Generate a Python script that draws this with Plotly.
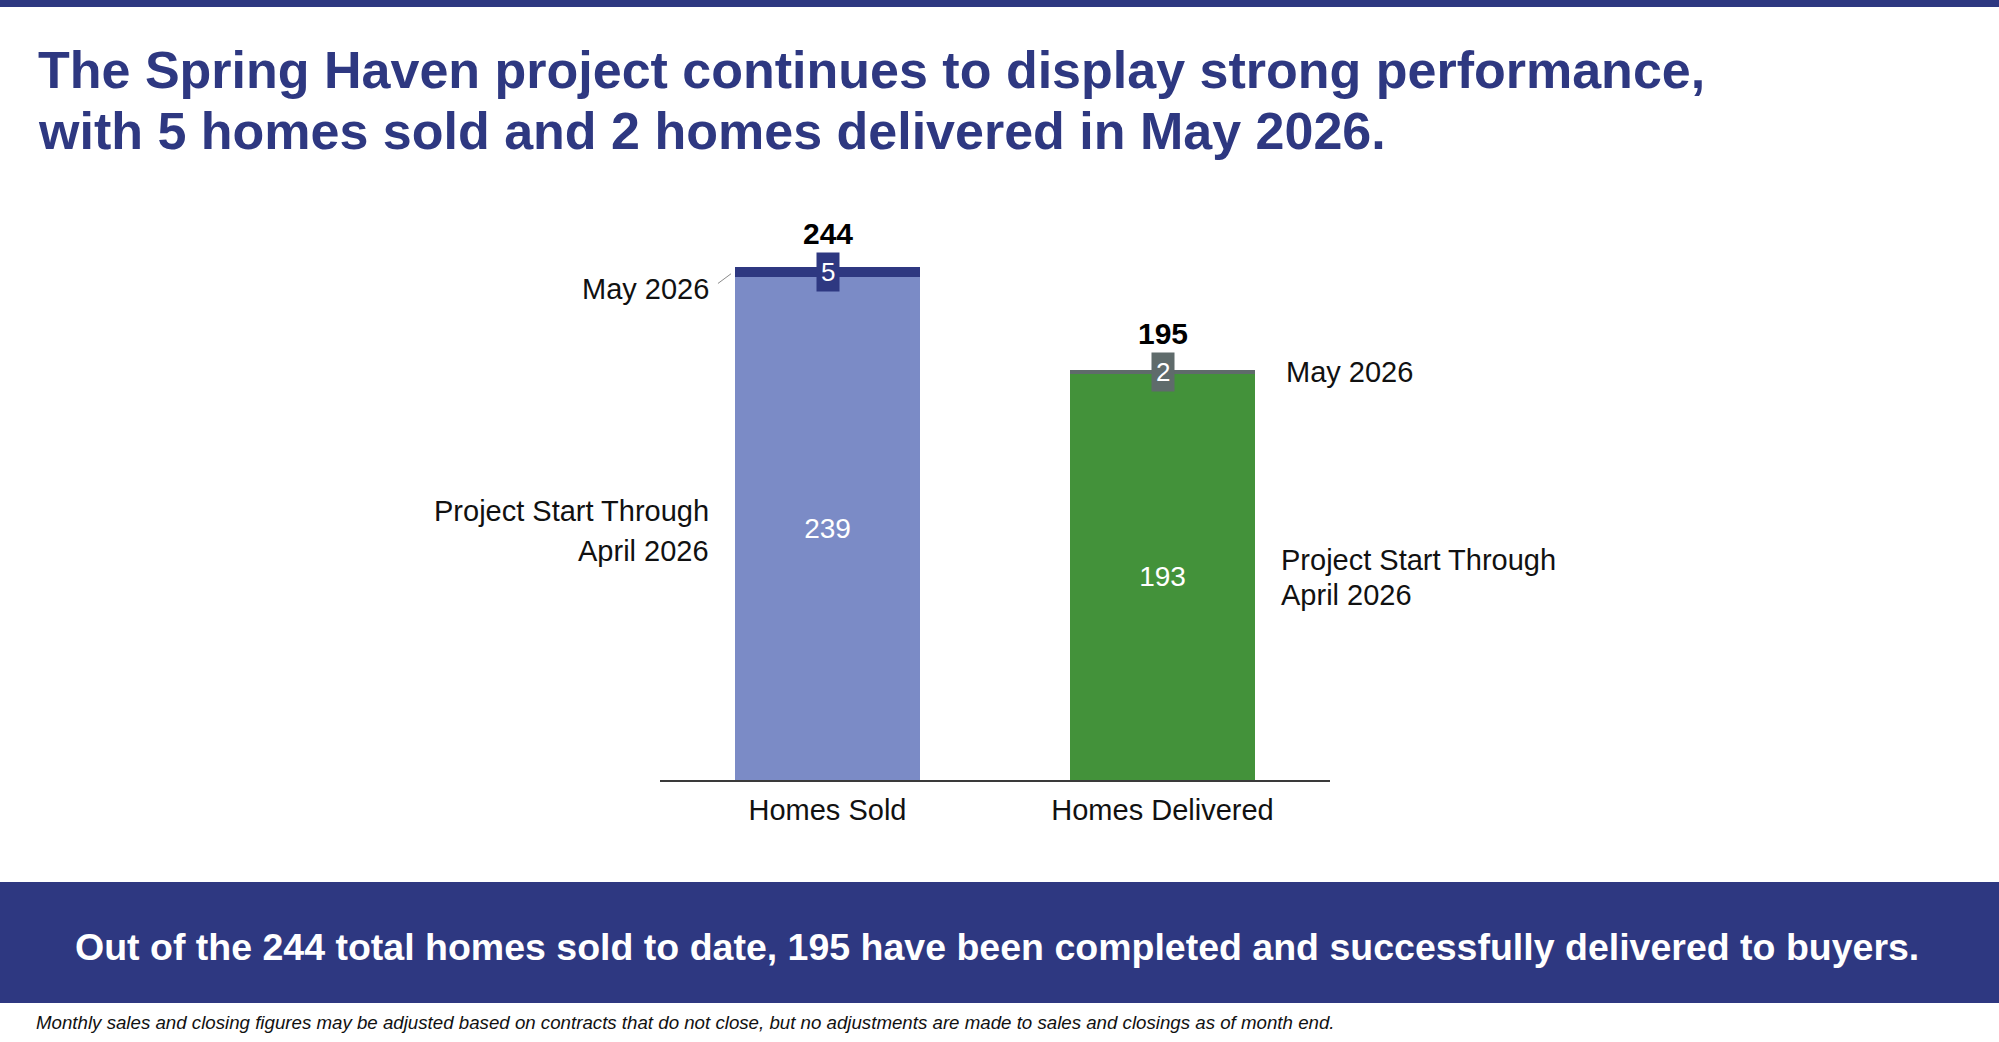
import plotly.graph_objects as go

W, H = 1999, 1042

# data
categories = ["Homes Sold", "Homes Delivered"]
series_names = ["Project Start Through April 2026", "May 2026"]
through_april = [239, 193]
may_2026 = [5, 2]
totals = [a + b for a, b in zip(through_april, may_2026)]

title_lines = [
    "The Spring Haven project continues to display strong performance,",
    "with 5 homes sold and 2 homes delivered in May 2026.",
]
banner_text = ("Out of the 244 total homes sold to date, 195 have been completed "
               "and successfully delivered to buyers.")
footnote = ("Monthly sales and closing figures may be adjusted based on contracts that do not "
            "close, but no adjustments are made to sales and closings as of month end.")

# colours
NAVY = "#2E3881"
base_colors = ["#7B8BC6", "#43923A"]
top_colors = ["#2E3881", "#5F6B6B"]
FONT = "Liberation Sans, Arial, sans-serif"


def px_x(p):
    return p / W


def px_y(p):
    return 1 - p / H


# plot area in pixels
AX_LEFT, AX_RIGHT, AX_BOTTOM = 660, 1330, 780
Y_MAX = 250
PX_PER_UNIT = 2.104
BAR_W = 0.55

fig = go.Figure()

fig.add_trace(go.Bar(
    x=categories,
    y=through_april,
    name=series_names[0],
    marker=dict(color=base_colors, line=dict(width=0)),
    width=BAR_W,
    text=[str(v) for v in through_april],
    textposition="inside",
    insidetextanchor="middle",
    textangle=0,
    textfont=dict(family=FONT, size=28, color="white"),
))
fig.add_trace(go.Bar(
    x=categories,
    y=may_2026,
    name=series_names[1],
    marker=dict(color=top_colors, line=dict(width=0)),
    width=BAR_W,
    textposition="none",
))

annotations = []

# title
for line, yc in zip(title_lines, [70, 131]):
    annotations.append(dict(
        xref="paper", yref="paper", x=px_x(36), y=px_y(yc),
        xanchor="left", yanchor="middle", showarrow=False, text=line,
        font=dict(family=FONT, size=52, color=NAVY, weight="bold"),
    ))

for i, cat in enumerate(categories):
    mid_top = through_april[i] + may_2026[i] / 2
    # boxed May values
    annotations.append(dict(
        x=cat, y=mid_top, xref="x", yref="y", showarrow=False,
        text=str(may_2026[i]), bgcolor=top_colors[i], borderpad=4,
        font=dict(family=FONT, size=26, color="white"),
    ))
    # totals
    annotations.append(dict(
        x=cat, y=mid_top, xref="x", yref="y", showarrow=False, yshift=38,
        text=str(totals[i]),
        font=dict(family=FONT, size=30, color="black", weight="bold"),
    ))

label_font = dict(family=FONT, size=29, color="#111111")
first, second = "Project Start Through", "April 2026"

# left side labels (Homes Sold)
annotations.append(dict(
    x=categories[0], y=through_april[0] + may_2026[0] / 2, xref="x", yref="y",
    xanchor="right", xshift=-117, yshift=-17, showarrow=False,
    text=series_names[1], font=label_font,
))
for txt, ys in [(first, 18), (second, -22)]:
    annotations.append(dict(
        x=categories[0], y=through_april[0] / 2, xref="x", yref="y",
        xanchor="right", align="right", xshift=-117, yshift=ys, showarrow=False,
        text=txt, font=label_font,
    ))

# right side labels (Homes Delivered)
annotations.append(dict(
    x=categories[1], y=through_april[1] + may_2026[1] / 2, xref="x", yref="y",
    xanchor="left", xshift=121, yshift=0, showarrow=False,
    text=series_names[1], font=label_font,
))
for txt, ys in [(first, 17), (second, -18)]:
    annotations.append(dict(
        x=categories[1], y=through_april[1] / 2, xref="x", yref="y",
        xanchor="left", align="left", xshift=116, yshift=ys, showarrow=False,
        text=txt, font=label_font,
    ))

# banner text and footnote
annotations.append(dict(
    xref="paper", yref="paper", x=0.4985, y=px_y(947), xanchor="center", yanchor="middle",
    showarrow=False, text=banner_text,
    font=dict(family=FONT, size=37.5, color="white", weight="bold"),
))
annotations.append(dict(
    xref="paper", yref="paper", x=px_x(34), y=px_y(1022), xanchor="left", yanchor="middle",
    showarrow=False, text="<i>" + footnote + "</i>",
    font=dict(family=FONT, size=18.7, color="#111111"),
))

shapes = [
    # top rule
    dict(type="rect", xref="paper", yref="paper", x0=0, x1=1, y0=px_y(7), y1=1,
         fillcolor=NAVY, line=dict(width=0), layer="below"),
    # banner
    dict(type="rect", xref="paper", yref="paper", x0=0, x1=1, y0=px_y(1003), y1=px_y(882),
         fillcolor=NAVY, line=dict(width=0), layer="below"),
    # leader from left May label to bar
    dict(type="line", xref="x", yref="y", x0=-0.327, y0=236.0, x1=-0.288, y1=240.6,
         line=dict(color="#8A8A8A", width=1)),
]

y_top_px = AX_BOTTOM - Y_MAX * PX_PER_UNIT

fig.update_layout(
    width=W, height=H,
    margin=dict(l=0, r=0, t=0, b=0),
    paper_bgcolor="white", plot_bgcolor="white",
    barmode="stack",
    showlegend=False,
    annotations=annotations,
    shapes=shapes,
    xaxis=dict(
        domain=[px_x(AX_LEFT), px_x(AX_RIGHT)],
        range=[-0.5, 1.5],
        showline=True, linecolor="#3A3A3A", linewidth=2,
        showgrid=False, zeroline=False, ticks="",
        tickfont=dict(family=FONT, size=29, color="#111111"),
        ticklabelstandoff=3,
    ),
    yaxis=dict(
        domain=[px_y(AX_BOTTOM), px_y(y_top_px)],
        range=[0, Y_MAX],
        visible=False,
    ),
)

fig.write_html(
    "out.html",
    config={"displayModeBar": False},
    post_script="document.body.style.margin='0';document.body.style.overflow='hidden';",
)
